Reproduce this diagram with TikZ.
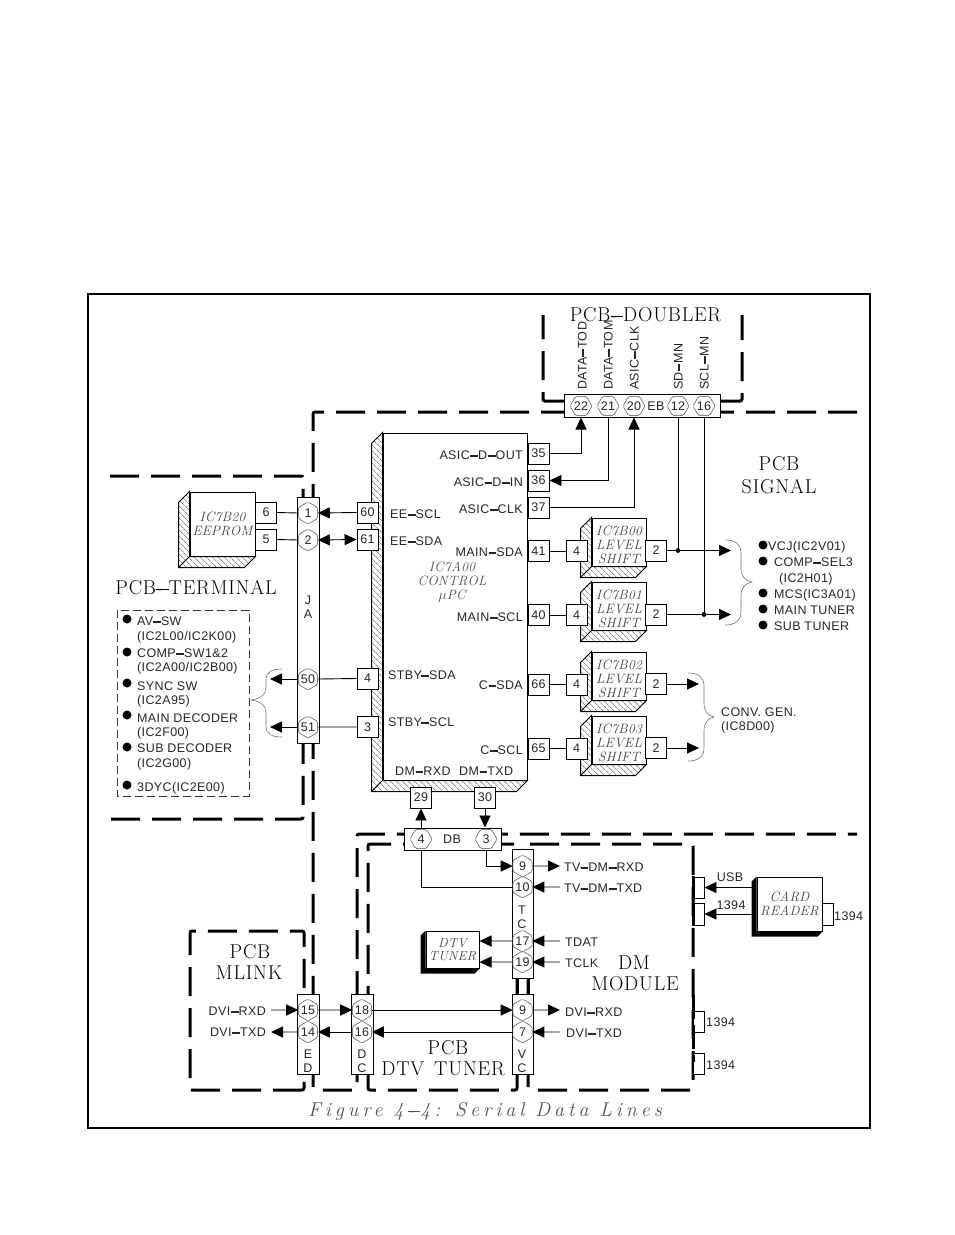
\documentclass[tikz,border=0pt]{standalone}
\usepackage{fontspec}
\usetikzlibrary{arrows.meta,shapes.geometric,patterns.meta,calc}
\newfontfamily\sanslab[LetterSpace=3]{Liberation Sans}
\newfontfamily\serlab[LetterSpace=4]{Latin Modern Roman}
\newfontfamily\serit[LetterSpace=2.5]{Latin Modern Roman}
\newfontfamily\capfont[LetterSpace=20]{Latin Modern Roman}
\colorlet{ink}{black!85}
\newcommand{\z}[1]{\makebox[0pt]{#1}}
\newcommand{\up}{\rule{0pt}{15.5pt}}
% the drawing prints its hyphens as long dashes: lay a longer rule over the real hyphen
\newXeTeXintercharclass\hyclass
\XeTeXcharclass`\-=\hyclass
\XeTeXinterchartoks\hyclass 0={\hyext}
\newcommand{\hyext}{}
\newcommand{\dashsans}{\XeTeXinterchartokenstate=1 \renewcommand{\hyext}{\kern-.31em\rule[.215em]{.62em}{.115em}}}
\newcommand{\dashser}{\XeTeXinterchartokenstate=1 \renewcommand{\hyext}{\kern-.33em\rule[.185em]{.62em}{.075em}}}
\tikzset{
  frame/.style={line width=2.4pt},
  bound/.style={line width=3pt,dash pattern=on 29pt off 12pt,rounded corners=2pt},
  wire/.style={line width=.9pt},
  arr/.style={wire,-{Triangle[length=12pt,width=11pt]}},
  dbl/.style={wire,{Triangle[length=12pt,width=11pt]}-{Triangle[length=12pt,width=11pt]}},
  pinbox/.style={draw,fill=white,line width=.9pt,minimum width=21pt,minimum height=21pt,inner sep=0pt,font=\sanslab\fontsize{12.5}{12.5}\selectfont,text=ink},
  bar/.style={draw,fill=white,line width=1pt,inner sep=0pt},
  hexv/.style={draw=black!70,fill=white,regular polygon,regular polygon sides=6,shape border rotate=30,minimum size=22pt,inner sep=0pt,line width=.5pt,rounded corners=1.5pt,font=\sanslab\fontsize{12.5}{12.5}\selectfont,text=ink},
  hexh/.style={draw=black!70,fill=white,regular polygon,regular polygon sides=6,minimum size=22pt,inner sep=0pt,line width=.5pt,rounded corners=1.5pt,font=\sanslab\fontsize{12.5}{12.5}\selectfont,text=ink},
  lab/.style={inner sep=0pt,text height=9pt,text depth=0pt,text=ink,font=\sanslab\fontsize{12.5}{12.5}\selectfont\dashsans},
  big/.style={inner sep=0pt,text height=14pt,text depth=0pt,text=black,font=\serlab\fontsize{20}{20}\selectfont\dashser},
  face/.style={draw,fill=white,line width=1pt,inner sep=0pt,align=center,text=black!75,font=\serit\itshape\fontsize{13.5}{14}\selectfont},
  hatchside/.style={draw,line width=1pt,pattern={Lines[angle=-45,distance=4pt,line width=.6pt]},pattern color=black!70},
  brace/.style={draw=black!55,line width=.6pt},
  blt/.style={circle,fill=black,inner sep=0pt,minimum size=10pt},
}
\newcommand{\tl}[4]{\node[lab,anchor=west] (#1) at (#2,#3) {#4};}
\newcommand{\tr}[4]{\node[lab,anchor=east] (#1) at (#2,#3) {#4};}
\newcommand{\tc}[4]{\node[lab] (#1) at (#2,#3) {#4};}
\newcommand{\sides}[2]{%
  \path[hatchside] (#1.north west) -- ++(-#2,#2) -- ([shift={(-#2,#2)}]#1.south west) -- ([shift={(-#2,#2)}]#1.south east) -- (#1.south east) -- (#1.south west) -- cycle;
  \draw[line width=1pt] (#1.south west) -- ++(-#2,#2);}
\newcommand{\shadow}[2]{%
  \fill[black] (#1.north west) -- ++(-#2,#2) -- ([shift={(-#2,#2)}]#1.south west) -- ([shift={(-#2,#2)}]#1.south east) -- (#1.south east) -- (#1.south west) -- cycle;}
\begin{document}
\begin{tikzpicture}[x=1pt,y=-1pt]
\fill[white] (0,0) rectangle (954,1235);
\useasboundingbox (0,0) rectangle (954,1235);
\draw[frame] (88,294) rectangle (870,1128);

% board outlines
\draw[bound] (564,401) -- (543,401) -- (543,315);
\draw[bound] (720,401) -- (742,401) -- (742,315);
\draw[bound] (857,412) -- (313,412) -- (313,1090) -- (357,1090) -- (357,834) -- (857,834);
\draw[bound] (110,476) -- (303,476) -- (303,819) -- (110,819);
\draw[bound] (517,1090) -- (517,844) -- (368,844) -- (368,1090) -- cycle;
\draw[bound] (528,844) -- (693,844) -- (693,1090) -- (528,1090) -- cycle;
\draw[bound] (304,1090) -- (190,1090) -- (190,931) -- (304,931) -- cycle;
\draw[line width=3pt] (517,975) -- (517,996) (528,975) -- (528,996);

% titles
\node[big] (tdoub) at (645.5,314) {PCB-DOUBLER};
\node[big] (tsig1) at (779,463) {PCB};
\node[big] (tsig2) at (779,486) {SIGNAL};
\node[big] (tterm) at (196,587) {PCB-TERMINAL};
\node[big] (tml1) at (250,951) {PCB};
\node[big] (tml2) at (249,972) {MLINK};
\node[big] (tdm1) at (634,962) {DM};
\node[big] (tdm2) at (635,983) {MODULE};
\node[big] (ttun1) at (448,1047) {PCB};
\node[big] (ttun2) at (443,1068) {DTV\hspace{3pt} TUNER};
\node[inner sep=0pt,text=black!68,font=\capfont\itshape\fontsize{20}{20}\selectfont\dashser] (tfig) at (485,1111) {Figure 4-4: Serial Data Lines};

% connector bars
\node[bar,minimum width=22pt,minimum height=246pt] (ja) at (308,620) {};
\node[bar,minimum width=156pt,minimum height=23pt] (eb) at (642,405.5) {};
\node[bar,minimum width=97pt,minimum height=22pt] (db) at (452.5,839) {};
\node[bar,minimum width=21pt,minimum height=129pt] (tcb) at (522.5,913.5) {};
\node[bar,minimum width=21pt,minimum height=80pt] (vc) at (522.5,1034) {};
\node[bar,minimum width=22pt,minimum height=80pt] (ed) at (308,1034) {};
\node[bar,minimum width=22pt,minimum height=80pt] (dc) at (362,1034) {};

% hexagon pins
\node[hexh] (p22) at (581,406) {\z{22}};
\node[hexh] (p21) at (608,406) {\z{21}};
\node[hexh] (p20) at (634,406) {\z{20}};
\node[hexh] (p12) at (678,406) {\z{12}};
\node[hexh] (p16) at (704,406) {\z{16}};
\tc{teb}{656}{406}{EB}
\node[hexv] (j1) at (308,513) {\z{1}};
\node[hexv] (j2) at (308,540) {\z{2}};
\node[hexv] (j50) at (308,679) {\z{50}};
\node[hexv] (j51) at (308,727) {\z{51}};
\node[lab,align=center,text height=,text depth=] (tja) at (308,607) {J\\[1pt]A};
\node[hexh] (d4) at (421,839) {\z{4}};
\node[hexh] (d3) at (486,839) {\z{3}};
\tc{tdb}{452}{839}{DB}
\node[hexv] (t9) at (522.5,866) {\z{9}};
\node[hexv] (t10) at (522.5,887) {\z{10}};
\node[hexv] (t17) at (522.5,941) {\z{17}};
\node[hexv] (t19) at (522.5,962) {\z{19}};
\tc{ttT}{522}{910}{T}
\tc{ttC}{522}{924}{C}
\node[hexv] (v9) at (522.5,1010) {\z{9}};
\node[hexv] (v7) at (522.5,1032) {\z{7}};
\tc{tvV}{522}{1054}{V}
\tc{tvC}{522}{1068}{C}
\node[hexv] (e15) at (308,1010) {\z{15}};
\node[hexv] (e14) at (308,1032) {\z{14}};
\tc{teE}{308}{1054}{E}
\tc{teD}{308}{1068}{D}
\node[hexv] (c18) at (362,1010) {\z{18}};
\node[hexv] (c16) at (362,1032) {\z{16}};
\tc{tcD}{362}{1054}{D}
\tc{tcC}{362}{1068}{C}

% main IC
\node[face,minimum width=144pt,minimum height=347pt] (ic) at (455,606.5) {};
\sides{ic}{11}
\node[inner sep=0pt,align=center,text=black!70,font=\serit\itshape\fontsize{13.5}{14.2}\selectfont] (ictxt) at (452,582) {IC7A00\\CONTROL\\$\mu$PC};
\tr{a1}{523}{455}{ASIC-D-OUT}
\tr{a2}{523}{482}{ASIC-D-IN}
\tr{a3}{523}{509}{ASIC-CLK}
\tr{a4}{523}{552}{MAIN-SDA}
\tr{a5}{523}{617}{MAIN-SCL}
\tr{a6}{523}{685}{C-SDA}
\tr{a7}{523}{750}{C-SCL}
\tl{a8}{390}{514}{EE-SCL}
\tl{a9}{390}{541}{EE-SDA}
\tl{a10}{388}{675}{STBY-SDA}
\tl{a11}{388}{722}{STBY-SCL}
\tl{a12}{395}{771}{DM-RXD}
\tl{a13}{459}{771}{DM-TXD}

% pin boxes on the main IC
\node[pinbox] (b60) at (367.5,512.5) {60};
\node[pinbox] (b61) at (367.5,539.5) {61};
\node[pinbox] (b4) at (367.5,678.5) {4};
\node[pinbox] (b3) at (367.5,727) {3};
\node[pinbox] (b35) at (538.5,453.5) {35};
\node[pinbox] (b36) at (538.5,480.5) {36};
\node[pinbox] (b37) at (538.5,507.5) {37};
\node[pinbox] (b41) at (538.5,551) {41};
\node[pinbox] (b40) at (538.5,615) {40};
\node[pinbox] (b66) at (538.5,684.5) {66};
\node[pinbox] (b65) at (538.5,748.5) {65};
\node[pinbox] (b29) at (421,797.5) {29};
\node[pinbox] (b30) at (485,797.5) {30};

% EEPROM
\node[face,minimum width=65pt,minimum height=64pt] (rom) at (222.5,524) {IC7B20\\EEPROM};
\sides{rom}{11}
\node[pinbox] (r6) at (266,512.5) {6};
\node[pinbox] (r5) at (266,539.5) {5};

% level shifters
\node[face,minimum width=54pt,minimum height=48pt] (ls0) at (619,542) {\up IC7B00\\LEVEL\\SHIFT};
\node[face,minimum width=54pt,minimum height=48pt] (ls1) at (619,606) {\up IC7B01\\LEVEL\\SHIFT};
\node[face,minimum width=54pt,minimum height=48pt] (ls2) at (619,676) {\up IC7B02\\LEVEL\\SHIFT};
\node[face,minimum width=54pt,minimum height=48pt] (ls3) at (619,740) {\up IC7B03\\LEVEL\\SHIFT};
\sides{ls0}{11}\sides{ls1}{11}\sides{ls2}{11}\sides{ls3}{11}
\node[pinbox] (i0) at (576.5,551) {4};
\node[pinbox] (i1) at (576.5,615) {4};
\node[pinbox] (i2) at (576.5,684.5) {4};
\node[pinbox] (i3) at (576.5,748.5) {4};
\node[pinbox] (o0) at (656,550.5) {2};
\node[pinbox] (o1) at (656,614.5) {2};
\node[pinbox] (o2) at (656,684) {2};
\node[pinbox] (o3) at (656,748) {2};

% DTV tuner and card reader
\node[face,minimum width=53pt,minimum height=37pt,font=\serit\itshape\fontsize{13}{13}\selectfont] (dtv) at (452.5,949.5) {DTV\\TUNER};
\shadow{dtv}{5}
\node[face,minimum width=65pt,minimum height=54pt] (card) at (789.5,904) {CARD\\READER};
\shadow{card}{5}
\node[pinbox,minimum width=11pt,minimum height=22pt] (s0) at (827.5,914) {};
\node[pinbox,minimum width=11pt,minimum height=21pt] (s1) at (698.5,887.5) {};
\node[pinbox,minimum width=11pt,minimum height=22pt] (s2) at (698.5,914) {};
\node[pinbox,minimum width=11pt,minimum height=21pt] (s3) at (698.5,1021.5) {};
\node[pinbox,minimum width=11pt,minimum height=21pt] (s4) at (698.5,1063.5) {};
\draw[line width=3pt,dash pattern=on 22pt off 6pt] (693,876) -- (693,926);
\draw[line width=3pt,dash pattern=on 24pt off 6pt] (693,995) -- (693,1062);

% rotated labels
\node[lab,rotate=90,anchor=west] (v1) at (582,390) {DATA-TOD};
\node[lab,rotate=90,anchor=west] (v2) at (608,390) {DATA-TOM};
\node[lab,rotate=90,anchor=west] (v3) at (634,390) {ASIC-CLK};
\node[lab,rotate=90,anchor=west] (v4) at (678,390) {SD-MN};
\node[lab,rotate=90,anchor=west] (v5) at (704,390) {SCL-MN};

% wires from EB
\draw[arr] (b35.east) -| (p22 |- eb.south);
\draw[arr] (p21 |- eb.south) |- (b36.east);
\draw[arr] (b37.east) -| (p20 |- eb.south);
\coordinate (q0) at (731,550.5);
\coordinate (q1) at (731,614.5);
\draw[arr] (o0.east) -- (q0);
\draw[arr] (o1.east) -- (q1);
\coordinate (q2) at (699,684);
\coordinate (q3) at (699,748);
\draw[arr] (o2.east) -- (q2);
\draw[arr] (o3.east) -- (q3);
\draw[wire] (p12 |- eb.south) -- (p12 |- o0.east) coordinate (j0) ;
\draw[wire] (p16 |- eb.south) -- (p16 |- o1.east) coordinate (j9) ;
\fill (j0) circle (2.4pt) (j9) circle (2.4pt);

% level shifter inputs
\foreach \a/\b in {b41/i0,b40/i1,b66/i2,b65/i3}{\draw[wire] (\a.east) -- (\b.west);}

% terminal side
\draw[wire] (r6.east) -- (j1.west);
\draw[wire] (r5.east) -- (j2.west);
\draw[arr] (b60.west) -- (j1.east);
\draw[dbl] (j2.east) -- (b61.west);
\draw[wire] (j50.east) -- (b4.west);
\draw[wire] (j51.east) -- (b3.west);
\coordinate (w50) at (270,679);
\coordinate (w51) at (270,727);
\draw[arr] (ja.west |- j50) -- (w50);
\draw[arr] (ja.west |- j51) -- (w51);

% DB
\draw[arr] (db.north -| b29) -- (b29.south);
\draw[arr] (b30.south) -- (db.north -| b30);
\draw[arr] (d3 |- db.south) |- (t9.west);
\draw[wire] (d4 |- db.south) |- (t10.west);

% TC / VC right side
\coordinate (x9) at (560,866);
\coordinate (x10) at (560,887);
\coordinate (x17) at (560,941);
\coordinate (x19) at (560,962);
\coordinate (y9) at (560,1010);
\coordinate (y7) at (560,1032);
\draw[arr] (t9.east) -- (x9);
\draw[arr] (x10) -- (t10.east);
\draw[arr] (x17) -- (t17.east);
\draw[arr] (x19) -- (t19.east);
\draw[arr] (v9.east) -- (y9);
\draw[arr] (y7) -- (v7.east);
\draw[arr] (t17.west) -- (dtv.east |- t17);
\draw[arr] (t19.west) -- (dtv.east |- t19);
\tl{l1}{564}{867}{TV-DM-RXD}
\tl{l2}{564}{888}{TV-DM-TXD}
\tl{l3}{565}{942}{TDAT}
\tl{l4}{565}{963}{TCLK}
\tl{l5}{565}{1012}{DVI-RXD}
\tl{l6}{566}{1033}{DVI-TXD}

% bottom row
\coordinate (m1) at (271,1010);
\coordinate (m2) at (271,1032);
\draw[arr] (m1) -- (e15.west);
\draw[arr] (e14.west) -- (m2);
\draw[arr] (e15.east) -- (c18.west);
\draw[arr] (c16.west) -- (e14.east);
\draw[arr] (c18.east) -- (v9.west);
\draw[arr] (v7.west) -- (c16.east);
\tr{l7}{266}{1011}{DVI-RXD}
\tr{l8}{266}{1032}{DVI-TXD}

% card reader wires
\draw[arr] (card.west |- s1) ++(-5,0) -- (s1.east);
\draw[arr] (card.west |- s2) ++(-5,0) -- (s2.east);
\tc{l9}{730}{877}{USB}
\tc{l10}{731}{905}{1394}
\tl{l11}{834}{916}{1394}
\tl{l12}{706}{1022}{1394}
\tl{l13}{706}{1065}{1394}

% left list
\draw[line width=.7pt,dash pattern=on 8pt off 4pt,draw=black!80] (117,610) rectangle (249,796);
\foreach \n/\y in {1/619,2/652,3/683,4/715,5/747,6/785}{\node[blt,minimum size=9pt] (bl\n) at (127,\y) {};}
\tl{c1}{137}{621}{AV-SW}
\tl{c2}{137}{636}{(IC2L00/IC2K00)}
\tl{c3}{137}{653}{COMP-SW1\&2}
\tl{c4}{137}{667}{(IC2A00/IC2B00)}
\tl{c5}{137}{686}{SYNC SW}
\tl{c6}{137}{700}{(IC2A95)}
\tl{c7}{137}{718}{MAIN DECODER}
\tl{c8}{137}{732}{(IC2F00)}
\tl{c9}{137}{748}{SUB DECODER}
\tl{c10}{137}{763}{(IC2G00)}
\tl{c11}{137}{787}{3DYC(IC2E00)}
\draw[brace] (282,669) .. controls (272,669) and (266,672) .. (266,680) -- (266,688) .. controls (266,695) and (258,700) .. (249,700) .. controls (258,700) and (266,705) .. (266,712) -- (266,726) .. controls (266,734) and (272,737) .. (282,737);

% right lists
\foreach \n/\y in {1/545,2/561,3/593,4/609,5/625}{\node[blt,minimum size=9pt] (br\n) at (763,\y) {};}
\tl{d1}{768}{546}{VCJ(IC2V01)}
\tl{d2}{774}{562}{COMP-SEL3}
\tl{d3}{779}{578}{(IC2H01)}
\tl{d4}{774}{594}{MCS(IC3A01)}
\tl{d5}{774}{610}{MAIN TUNER}
\tl{d6}{774}{626}{SUB TUNER}
\tl{d7}{721}{712}{CONV. GEN.}
\tl{d8}{721}{726}{(IC8D00)}
\draw[brace] (725,540) .. controls (735,540) and (741,544) .. (741,553) -- (741,568) .. controls (741,576) and (745,581) .. (752,582) .. controls (745,583) and (741,588) .. (741,596) -- (741,612) .. controls (741,621) and (735,625) .. (725,625);
\draw[brace] (688,673) .. controls (698,673) and (704,677) .. (704,686) -- (704,703) .. controls (704,711) and (708,716) .. (714,717) .. controls (708,718) and (704,723) .. (704,731) -- (704,748) .. controls (704,757) and (698,761) .. (688,761);
\end{tikzpicture}
\end{document}
